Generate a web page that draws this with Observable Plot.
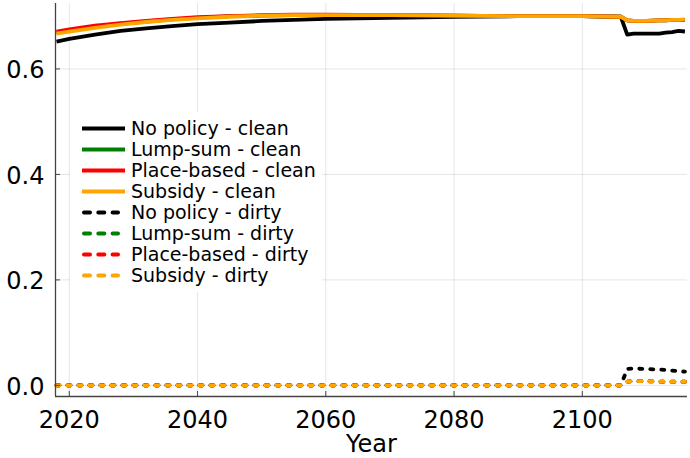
<!DOCTYPE html>
<html><head><meta charset="utf-8">
<script src="https://cdn.jsdelivr.net/npm/d3@7"></script>
<script src="https://cdn.jsdelivr.net/npm/@observablehq/plot@0.6"></script>
<style>
body{margin:0;background:#fff;font-family:"DejaVu Sans",sans-serif;}
#wrap{position:relative;width:690px;height:458px;}
#legend{position:absolute;left:70px;top:112px;width:252px;height:180px;background:#fff;padding-top:6px;box-sizing:border-box;}
.row{display:flex;align-items:center;height:21px;}
.row svg{margin-left:10px;margin-right:4px;}
.row span{font-size:19px;color:#000;white-space:nowrap;line-height:21px;}
</style></head><body><div id="wrap"></div>
<script>
const years = [2018, 2020, 2024, 2028, 2032, 2036, 2040, 2045, 2050, 2055, 2060, 2070, 2080, 2090, 2100, 2106, 2107, 2108, 2110, 2112, 2113, 2114, 2115, 2116];

const noPolicyClean   = [0.652, 0.657, 0.665, 0.672, 0.677, 0.681, 0.685, 0.688, 0.691, 0.693, 0.695, 0.697, 0.699, 0.700, 0.700, 0.699, 0.665, 0.667, 0.667, 0.667, 0.669, 0.670, 0.672, 0.671];
const lumpSumClean    = [0.669, 0.673, 0.680, 0.686, 0.690, 0.694, 0.697, 0.700, 0.701, 0.702, 0.702, 0.702, 0.701, 0.700, 0.700, 0.699, 0.692, 0.691, 0.691, 0.692, 0.692, 0.693, 0.693, 0.693];
const placeBasedClean = [0.671, 0.675, 0.682, 0.687, 0.691, 0.695, 0.698, 0.700, 0.702, 0.703, 0.703, 0.702, 0.701, 0.700, 0.700, 0.699, 0.692, 0.691, 0.691, 0.692, 0.692, 0.693, 0.693, 0.693];
const subsidyClean    = [0.667, 0.671, 0.678, 0.684, 0.689, 0.693, 0.696, 0.699, 0.701, 0.702, 0.702, 0.702, 0.701, 0.700, 0.700, 0.699, 0.692, 0.691, 0.691, 0.692, 0.692, 0.693, 0.693, 0.694];

const noPolicyDirty   = [0, 0, 0, 0, 0, 0, 0, 0, 0, 0, 0, 0, 0, 0, 0, 0, 0.031, 0.032, 0.031, 0.030, 0.029, 0.028, 0.027, 0.026];
const lumpSumDirty    = [0, 0, 0, 0, 0, 0, 0, 0, 0, 0, 0, 0, 0, 0, 0, 0, 0.007, 0.008, 0.008, 0.007, 0.007, 0.007, 0.007, 0.007];
const placeBasedDirty = [0, 0, 0, 0, 0, 0, 0, 0, 0, 0, 0, 0, 0, 0, 0, 0, 0.007, 0.008, 0.008, 0.007, 0.007, 0.007, 0.007, 0.007];
const subsidyDirty    = [0, 0, 0, 0, 0, 0, 0, 0, 0, 0, 0, 0, 0, 0, 0, 0, 0.007, 0.008, 0.008, 0.007, 0.007, 0.007, 0.007, 0.007];

const seriesNames = ["No policy - clean", "Lump-sum - clean", "Place-based - clean", "Subsidy - clean",
                     "No policy - dirty", "Lump-sum - dirty", "Place-based - dirty", "Subsidy - dirty"];
const seriesValues = [noPolicyClean, lumpSumClean, placeBasedClean, subsidyClean,
                      noPolicyDirty, lumpSumDirty, placeBasedDirty, subsidyDirty];
const seriesColors = ["#000000", "#008000", "#ff0000", "#ffa500", "#000000", "#008000", "#ff0000", "#ffa500"];
const seriesDashed = [false, false, false, false, true, true, true, true];

const xTicks = [2020, 2040, 2060, 2080, 2100];
const yTicks = [0.0, 0.2, 0.4, 0.6];
const xDomain = [2017.85, 2116.4];
const yDomain = [-0.0211, 0.7241];
const xLabel = "Year";

const lineMarks = seriesNames.map((name, i) => {
  const rows = years.map((y, j) => ({year: y, value: seriesValues[i][j], series: name}));
  return Plot.line(rows, {
    x: "year", y: "value", stroke: seriesColors[i], strokeWidth: 3.8,
    strokeDasharray: seriesDashed[i] ? "3,8" : null,
    strokeLinecap: seriesDashed[i] ? "round" : "butt",
    strokeLinejoin: "round"
  });
});

const chart = Plot.plot({
  width: 690, height: 458,
  marginLeft: 55, marginRight: 3, marginTop: 3, marginBottom: 62,
  style: {fontFamily: "'DejaVu Sans', sans-serif", fontSize: "24px", background: "#fff", overflow: "visible"},
  x: {domain: xDomain},
  y: {domain: yDomain},
  marks: [
    Plot.ruleX(xTicks, {stroke: "#000", strokeOpacity: 0.1, strokeWidth: 1}),
    Plot.ruleY(yTicks, {stroke: "#000", strokeOpacity: 0.1, strokeWidth: 1}),
    ...lineMarks,
    Plot.ruleX([xDomain[0]], {stroke: "#444", strokeWidth: 1.3}),
    Plot.ruleY([yDomain[0]], {stroke: "#444", strokeWidth: 1.3}),
    Plot.axisX({ticks: xTicks, tickSize: -5, stroke: "#444", text: null, label: null}),
    Plot.axisY({ticks: yTicks, tickSize: -5, stroke: "#444", text: null, label: null}),
    Plot.axisX({ticks: xTicks, tickSize: 0, tickPadding: 14, tickFormat: d3.format("d"), label: xLabel,
                labelAnchor: "center", labelArrow: "none", labelOffset: 55, fill: "#000"}),
    Plot.axisY({ticks: yTicks, tickSize: 0, tickPadding: 11, tickFormat: d3.format(".1f"), label: null, fill: "#000", dy: 1.5})
  ]
});

const wrap = document.getElementById("wrap");
wrap.appendChild(chart);

const legend = document.createElement("div");
legend.id = "legend";
seriesNames.forEach((name, i) => {
  const row = document.createElement("div");
  row.className = "row";
  const dash = seriesDashed[i] ? ' stroke-dasharray="6,8.3" stroke-linecap="round"' : '';
  const x1 = seriesDashed[i] ? 4 : 2, x2 = seriesDashed[i] ? 38 : 45;
  row.innerHTML = `<svg width="47" height="21"><line x1="${x1}" x2="${x2}" y1="10.5" y2="10.5" stroke="${seriesColors[i]}" stroke-width="4"${dash}/></svg>`;
  const span = document.createElement("span");
  span.textContent = name;
  row.appendChild(span);
  legend.appendChild(row);
});
wrap.appendChild(legend);
</script>
</body></html>
